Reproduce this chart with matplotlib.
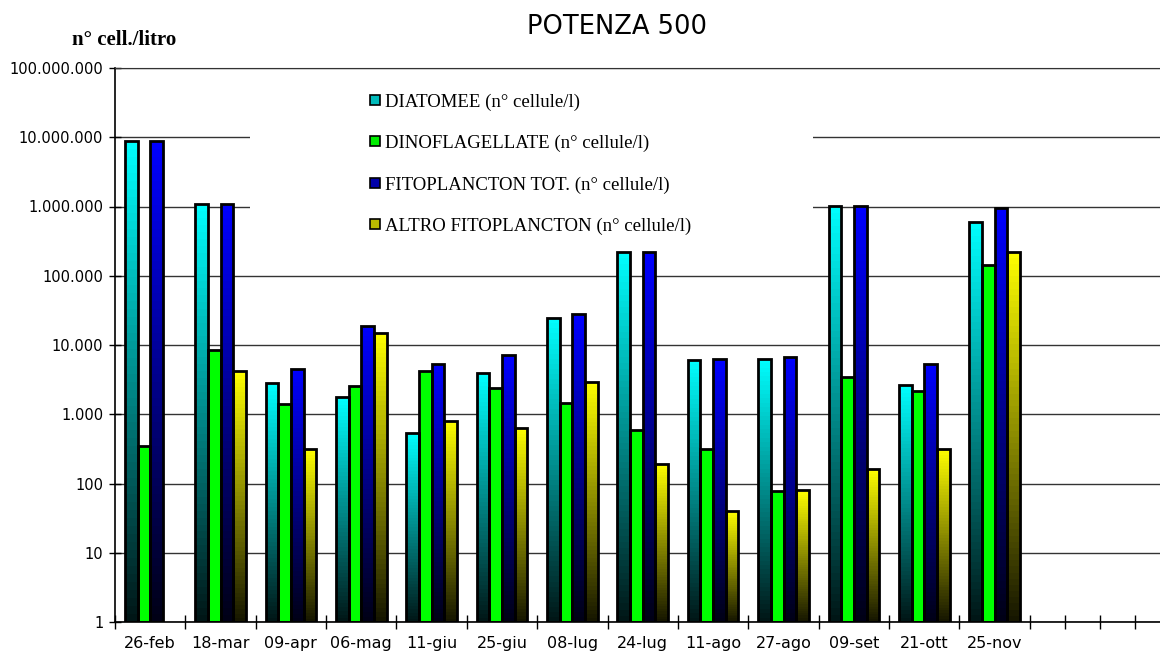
import matplotlib.pyplot as plt
import matplotlib.colors as mcolors
from matplotlib.patches import Rectangle
from matplotlib.lines import Line2D
import numpy as np

dates = ["26-feb", "18-mar", "09-apr", "06-mag", "11-giu", "25-giu", "08-lug",
         "24-lug", "11-ago", "27-ago", "09-set", "21-ott", "25-nov"]

diatomee = [8800000, 1080000, 2800, 1760, 540, 3900, 24300,
            223000, 6100, 6300, 1030000, 2620, 592000]
dinoflag = [350, 8500, 1400, 2560, 4200, 2370, 1440,
            590, 310, 79, 3400, 2140, 142000]
fito_tot = [8800000, 1080000, 4460, 18800, 5400, 7100, 28300,
            223000, 6300, 6800, 1030000, 5260, 942000]
altro = [None, 4250, 310, 14750, 810, 640, 2950,
         190, 40, 80, 160, 315, 223000]

labels = ["DIATOMEE (n° cellule/l)", "DINOFLAGELLATE (n° cellule/l)",
          "FITOPLANCTON TOT. (n° cellule/l)", "ALTRO FITOPLANCTON (n° cellule/l)"]
top_colors = ["#00FFFF", "#00FF00", "#0000FF", "#FFFF00"]
gradient = [True, False, True, True]
series = [diatomee, dinoflag, fito_tot, altro]

fig = plt.figure(figsize=(11.6, 6.52), dpi=100)
ax = fig.add_axes([115 / 1160, 30 / 652, 1045 / 1160, 554 / 652])
ax.set_yscale("log")
ax.set_ylim(1, 1e8)
ax.set_xlim(-0.5, 14.35)

w = 0.18
offsets = [-1.5 * w, -0.5 * w, 0.5 * w, 1.5 * w]
nseg = 60

x = np.arange(len(dates))
for s, vals in enumerate(series):
    rgb = np.array(mcolors.to_rgb(top_colors[s]))
    for i, v in enumerate(vals):
        if v is None:
            continue
        xc = x[i] + offsets[s]
        if gradient[s]:
            # vertical shading, bright at the top, dark at the base
            edges = np.geomspace(1, v, nseg + 1)
            for k in range(nseg):
                t = (k + 0.5) / nseg
                c = rgb * (0.08 + 0.92 * t)
                ax.bar(xc, edges[k + 1] - edges[k], bottom=edges[k], width=w,
                       color=c, linewidth=0, antialiased=False, zorder=2)
        else:
            ax.bar(xc, v - 1, bottom=1, width=w, color=rgb, linewidth=0, zorder=2)
        ax.bar(xc, v - 1, bottom=1, width=w, fill=False, edgecolor="black",
               linewidth=2.0, zorder=3)

# gridlines
ax.set_axisbelow(True)
ax.yaxis.grid(True, color="#333333", linewidth=1.0)
ax.set_yticks([10 ** k for k in range(9)])
ax.yaxis.set_minor_locator(plt.NullLocator())
ax.set_yticklabels([f"{10 ** k:,}".replace(",", ".") for k in range(9)],
                   fontsize=10.5, family="DejaVu Sans")
ax.tick_params(axis="y", direction="inout", length=9, width=1, pad=4)

major = list(np.arange(-0.5, 13, 1.0)) + [13.0, 13.5, 14.0]
ax.set_xticks(major)
ax.set_xticklabels([""] * len(major))
ax.set_xticks(x, minor=True)
ax.set_xticklabels(dates, minor=True, fontsize=11.5, family="DejaVu Sans")
ax.tick_params(axis="x", which="major", direction="inout", length=10, width=1)
ax.tick_params(axis="x", which="minor", length=0, pad=10)

ax.spines["right"].set_visible(False)
ax.spines["top"].set_color("#333333")
ax.spines["left"].set_linewidth(1.2)
ax.spines["bottom"].set_linewidth(1.2)

# white legend area
ax.add_patch(Rectangle((0.129, 0.671), 0.539, 0.322, transform=ax.transAxes,
                       facecolor="white", edgecolor="none", zorder=1))
handle_colors = ["#00BBBB", "#00EE00", "#0000AA", "#BBBB00"]
handles = [Line2D([], [], marker="s", linestyle="none", markersize=7.5,
                  markerfacecolor=c, markeredgecolor="black", markeredgewidth=1.2)
           for c in handle_colors]
ax.legend(handles, labels, loc="upper left", bbox_to_anchor=(0.235, 0.968),
          frameon=False, prop={"family": "Liberation Serif", "size": 13.5},
          handlelength=0.7, handletextpad=0.2, labelspacing=1.29, borderaxespad=0)

fig.text(617 / 1160, 1 - 27 / 652, "POTENZA 500", ha="center", va="center",
         fontsize=18.5, family="DejaVu Sans")
fig.text(124 / 1160, 1 - 40 / 652, "n° cell./litro", ha="center", va="center",
         fontsize=15, fontweight="bold", family="Liberation Serif")

fig.savefig("out.png", dpi=100)
